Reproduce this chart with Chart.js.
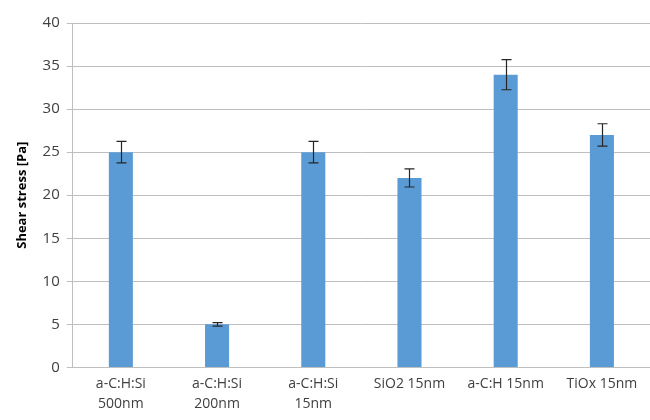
<!DOCTYPE html>
<html>
<head>
<meta charset="utf-8">
<script src="https://cdn.jsdelivr.net/npm/chart.js@4"></script>
<style>
  html, body { margin: 0; padding: 0; background: #fff; }
  #wrap { width: 650px; height: 420px; }
</style>
</head>
<body>
<div id="wrap"><canvas id="shearChart"></canvas></div>
<script>
// sample names (multi-line like the original axis)
const categories = [
    ['a-C:H:Si', '500nm'],
    ['a-C:H:Si', '200nm'],
    ['a-C:H:Si', '15nm'],
    'SiO2 15nm',
    'a-C:H 15nm',
    'TiOx 15nm'
]
const shearStress = [25, 5, 25, 22, 34, 27]
const shearError = [1.25, 0.2, 1.25, 1.05, 1.75, 1.3]
const yTicks = [0, 5, 10, 15, 20, 25, 30, 35, 40]

const fontFamily = "'Open Sans', 'Noto Sans', sans-serif"

// draws the +/- error whiskers on top of the bars
const errorBars = {
    id: 'errorBars',
    afterDatasetsDraw(chart) {
        const ctx = chart.ctx
        const meta = chart.getDatasetMeta(0)
        const yScale = chart.scales.y
        ctx.save()
        ctx.strokeStyle = '#262626'
        ctx.lineWidth = 1.2
        meta.data.forEach((bar, i) => {
            const x = Math.round(bar.x) + 0.5
            const top = yScale.getPixelForValue(shearStress[i] + shearError[i])
            const bottom = yScale.getPixelForValue(shearStress[i] - shearError[i])
            ctx.beginPath()
            ctx.moveTo(x, top)
            ctx.lineTo(x, bottom)
            ctx.moveTo(x - 5, top)
            ctx.lineTo(x + 5, top)
            ctx.moveTo(x - 5, bottom)
            ctx.lineTo(x + 5, bottom)
            ctx.stroke()
        })
        ctx.restore()
    }
}

new Chart(document.getElementById('shearChart'), {
    type: 'bar',
    data: {
        labels: categories,
        datasets: [{
            data: shearStress,
            backgroundColor: '#5b9bd5',
            borderWidth: 0,
            barPercentage: 0.5,
            categoryPercentage: 0.5
        }]
    },
    options: {
        responsive: true,
        maintainAspectRatio: false,
        animation: false,
        layout: { padding: { top: 23, right: 0, left: 10, bottom: 0 } },
        plugins: {
            legend: { display: false },
            tooltip: { enabled: false }
        },
        scales: {
            x: {
                grid: { display: false, drawTicks: false },
                border: { color: '#bfbfbf', width: 1 },
                ticks: {
                    color: '#404040',
                    font: { family: fontFamily, size: 14, lineHeight: 1.45 },
                    padding: 6,
                    maxRotation: 0,
                    autoSkip: false
                }
            },
            y: {
                min: 0,
                max: 40,
                afterBuildTicks: axis => { axis.ticks = yTicks.map(v => ({ value: v })) },
                grid: { color: '#bfbfbf', tickLength: 6, tickColor: '#bfbfbf' },
                border: { color: '#bfbfbf', width: 1 },
                ticks: {
                    color: '#404040',
                    font: { family: fontFamily, size: 15 },
                    padding: 7
                },
                title: {
                    display: true,
                    text: 'Shear stress [Pa]',
                    color: '#000',
                    font: { family: fontFamily, size: 13, weight: 'bold' },
                    padding: { bottom: 6 }
                }
            }
        }
    },
    plugins: [errorBars]
})
</script>
</body>
</html>
